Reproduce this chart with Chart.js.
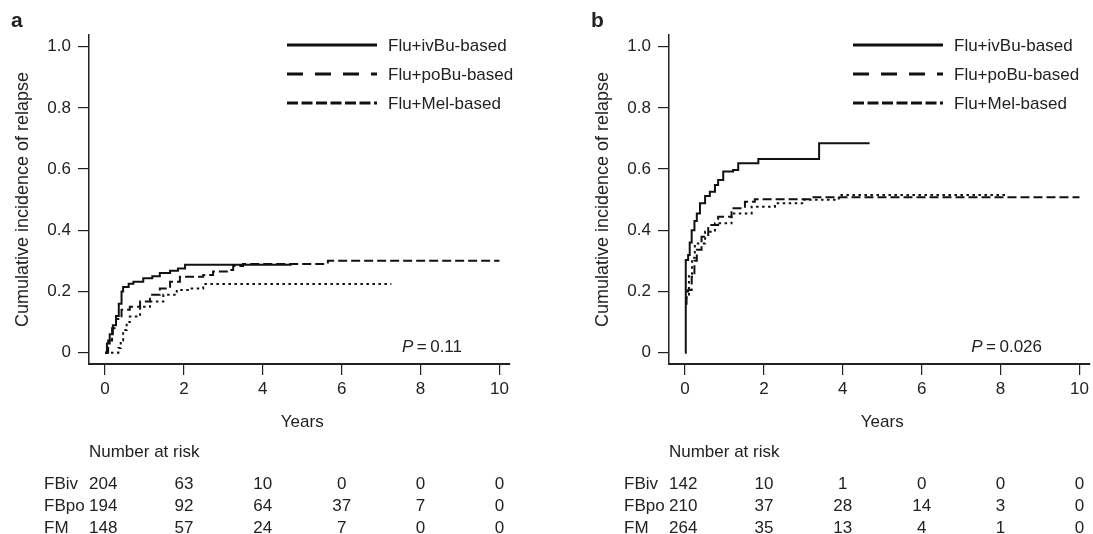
<!DOCTYPE html>
<html>
<head>
<meta charset="utf-8">
<script src="https://cdn.jsdelivr.net/npm/chart.js@4.4.0/dist/chart.umd.min.js"></script>
<style>
  body { margin: 0; background: #fff; width: 1093px; height: 534px; overflow: hidden; position: relative; }
  .panel { position: absolute; top: 0; width: 513px; height: 534px; }
</style>
</head>
<body>
<div class="panel" style="left:0"><canvas id="chartA"></canvas></div>
<div class="panel" style="left:580px"><canvas id="chartB"></canvas></div>
<script>
// labels
const seriesNames = ['Flu+ivBu-based', 'Flu+poBu-based', 'Flu+Mel-based'];
const rowLabels = ['FBiv', 'FBpo', 'FM'];
const xTicks = [0, 2, 4, 6, 8, 10];
const yTicks = [0, 0.2, 0.4, 0.6, 0.8, 1.0];
const riskTimes = [0, 2, 4, 6, 8, 10];

// panel a - cumulative incidence (years, value)
const aIvTime = [0, 0.05, 0.12, 0.2, 0.28, 0.35, 0.42, 0.46, 0.6, 0.72, 0.97, 1.2, 1.39, 1.65, 1.85, 2.03, 4.73];
const aIvCif  = [0, 0.03, 0.06, 0.09, 0.12, 0.16, 0.2, 0.215, 0.225, 0.232, 0.243, 0.25, 0.26, 0.268, 0.275, 0.287, 0.287];
const aPoTime = [0, 0.08, 0.18, 0.28, 0.42, 0.63, 0.89, 1.14, 1.39, 1.65, 1.9, 2.49, 2.74, 3.16, 3.25, 3.5, 5.65, 10];
const aPoCif  = [0, 0.04, 0.08, 0.11, 0.14, 0.15, 0.167, 0.189, 0.21, 0.232, 0.248, 0.254, 0.265, 0.27, 0.283, 0.29, 0.30, 0.30];
const aFmTime = [0, 0.34, 0.4, 0.46, 0.55, 0.63, 0.89, 1.14, 1.48, 1.82, 2.15, 2.49, 7.26];
const aFmCif  = [0, 0.015, 0.04, 0.074, 0.1, 0.118, 0.15, 0.167, 0.189, 0.205, 0.21, 0.224, 0.224];

// panel b
const bIvTime = [0, 0.02, 0.08, 0.12, 0.17, 0.24, 0.3, 0.38, 0.51, 0.63, 0.76, 0.84, 0.97, 1.22, 1.35, 1.86, 3.4, 4.68];
const bIvCif  = [0, 0.303, 0.319, 0.36, 0.40, 0.43, 0.455, 0.488, 0.512, 0.526, 0.548, 0.564, 0.592, 0.597, 0.619, 0.633, 0.684, 0.684];
const bPoTime = [0, 0.04, 0.08, 0.17, 0.24, 0.3, 0.42, 0.59, 0.84, 1.18, 1.52, 1.77, 3.16, 10];
const bPoCif  = [0.16, 0.2, 0.205, 0.248, 0.3, 0.336, 0.379, 0.417, 0.444, 0.472, 0.493, 0.501, 0.508, 0.508];
const bFmTime = [0, 0.1, 0.18, 0.25, 0.51, 0.76, 1.18, 1.69, 2.28, 3.0, 3.9, 8.2];
const bFmCif  = [0.18, 0.25, 0.31, 0.357, 0.395, 0.423, 0.455, 0.477, 0.488, 0.5, 0.515, 0.515];

// number at risk
const aRiskIv = [204, 63, 10, 0, 0, 0];
const aRiskPo = [194, 92, 64, 37, 7, 0];
const aRiskFm = [148, 57, 24, 7, 0, 0];
const bRiskIv = [142, 10, 1, 0, 0, 0];
const bRiskPo = [210, 37, 28, 14, 3, 0];
const bRiskFm = [264, 35, 13, 4, 1, 0];

const aPValue = '0.11';
const bPValue = '0.026';

const FONT = 'Liberation Sans';
const INK = '#222';
const lineDash = [[], [9, 4], [2.5, 3.5]];
const legendDash = [[], [16, 12], [11, 3.5]];

Chart.defaults.font.family = FONT;
Chart.defaults.font.size = 17;
Chart.defaults.color = INK;

function pts(t, v) {
  return t.map((x, i) => ({ x: x, y: v[i] }));
}

const extras = {
  id: 'extras',
  afterDraw(chart, args, o) {
    const ctx = chart.ctx;
    const xs = chart.scales.x;
    ctx.save();
    ctx.fillStyle = INK;
    ctx.strokeStyle = '#111';

    // panel letter
    ctx.font = 'bold 21px ' + FONT;
    ctx.textBaseline = 'alphabetic';
    ctx.textAlign = 'left';
    ctx.fillText(o.letter, 11, 27);

    // legend
    ctx.font = '17px ' + FONT;
    ctx.textBaseline = 'middle';
    [45, 74, 103].forEach((y, i) => {
      ctx.lineWidth = 3;
      ctx.setLineDash(legendDash[i]);
      ctx.beginPath();
      ctx.moveTo(o.legendX, y);
      ctx.lineTo(o.legendX + 90, y);
      ctx.stroke();
      ctx.setLineDash([]);
      ctx.fillText(seriesNames[i], o.legendX + 101, y + 1);
    });

    // P value: italic P, '=', value with small gaps
    const gap = 3.5;
    const wEq = ctx.measureText('=').width;
    const wNum = ctx.measureText(o.p).width;
    ctx.font = 'italic 17px ' + FONT;
    const wP = ctx.measureText('P').width;
    let px = 462 - wP - gap - wEq - gap - wNum;
    ctx.fillText('P', px, 347);
    ctx.font = '17px ' + FONT;
    px += wP + gap;
    ctx.fillText('=', px, 347);
    px += wEq + gap;
    ctx.fillText(o.p, px, 347);

    // axis title + table
    ctx.textAlign = 'center';
    ctx.fillText('Years', xs.getPixelForValue(5), 422);
    const left0 = xs.getPixelForValue(0) - 16;
    ctx.textAlign = 'left';
    ctx.fillText('Number at risk', left0, 452);
    [484, 506, 528].forEach((y, r) => {
      ctx.textAlign = 'left';
      ctx.fillText(rowLabels[r], 44, y);
      o.risk[r].forEach((n, i) => {
        if (i === 0) {
          ctx.textAlign = 'left';
          ctx.fillText(String(n), left0, y);
        } else {
          ctx.textAlign = 'center';
          ctx.fillText(String(n), xs.getPixelForValue(riskTimes[i]), y);
        }
      });
    });
    ctx.restore();
  }
};

function makeChart(id, letter, times, cifs, risk, p, legendX) {
  const datasets = seriesNames.map((name, i) => ({
    label: name,
    data: pts(times[i], cifs[i]),
    borderColor: '#111',
    borderWidth: 2,
    borderDash: lineDash[i],
    stepped: true,
    pointRadius: 0,
    fill: false
  }));
  return new Chart(document.getElementById(id), {
    type: 'line',
    data: { datasets: datasets },
    plugins: [extras],
    options: {
      responsive: true,
      maintainAspectRatio: false,
      animation: false,
      devicePixelRatio: 1,
      layout: { padding: { top: 35, bottom: 130, left: 0, right: 3 } },
      plugins: {
        legend: { display: false },
        tooltip: { enabled: false },
        extras: { letter: letter, risk: risk, p: p, legendX: legendX }
      },
      scales: {
        x: {
          type: 'linear',
          min: -0.405,
          max: 10.25,
          afterBuildTicks: s => { s.ticks = xTicks.map(v => ({ value: v })); },
          afterFit: s => { s.height = 40; },
          grid: { drawOnChartArea: false, drawTicks: true, tickLength: 11, color: INK, lineWidth: 1.2 },
          border: { display: true, color: INK, width: 2 },
          ticks: { padding: 4, maxRotation: 0, color: INK, callback: v => String(v) }
        },
        y: {
          min: -0.037,
          max: 1.038,
          afterBuildTicks: s => { s.ticks = yTicks.map(v => ({ value: v })); },
          afterFit: s => { s.width = 89; },
          grid: { drawOnChartArea: false, drawTicks: true, tickLength: 11, color: INK, lineWidth: 1.2 },
          border: { display: true, color: INK, width: 1.5 },
          ticks: { padding: 7, color: INK, callback: v => (v === 0 ? '0' : v.toFixed(1)) },
          title: { display: true, text: 'Cumulative incidence of relapse', color: INK, font: { size: 18 }, padding: { top: 12, bottom: 0 } }
        }
      }
    }
  });
}

makeChart('chartA', 'a',
  [aIvTime, aPoTime, aFmTime], [aIvCif, aPoCif, aFmCif],
  [aRiskIv, aRiskPo, aRiskFm], aPValue, 287);
makeChart('chartB', 'b',
  [bIvTime, bPoTime, bFmTime], [bIvCif, bPoCif, bFmCif],
  [bRiskIv, bRiskPo, bRiskFm], bPValue, 273);
</script>
</body>
</html>
